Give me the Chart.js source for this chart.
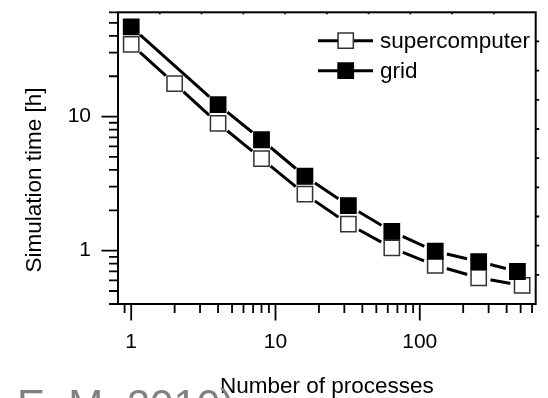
<!DOCTYPE html>
<html>
<head>
<title>Simulation time vs number of processes</title>
<script src="https://cdn.jsdelivr.net/npm/chart.js@4.4.0/dist/chart.umd.min.js"></script>
<style>
  html, body { margin: 0; padding: 0; background: #fff; }
  #chart { display: block; }
</style>
</head>
<body>
<canvas id="chart" width="548" height="398"></canvas>
<script>
// values
const superProcesses = [1, 2, 4, 8, 16, 32, 64, 128, 256, 512];
const superHours = [34.6, 17.6, 8.92, 4.86, 2.64, 1.58, 1.05, 0.778, 0.628, 0.55];
const gridProcesses = [1, 4, 8, 16, 32, 64, 128, 256, 475];
const gridHours = [46.7, 12.27, 6.72, 3.59, 2.17, 1.39, 0.99, 0.829, 0.699];
const seriesNames = ['supercomputer', 'grid'];

// tick values
const xMajorTicks = [1, 10, 100];
const xMinorTicks = [0.9, 2, 3, 4, 5, 6, 7, 8, 9, 20, 30, 40, 50, 60, 70, 80, 90, 200, 300, 400, 500, 600];
const yMajorTicks = [1, 10];
const yMinorTicks = [0.4, 0.5, 0.6, 0.7, 0.8, 0.9, 2, 3, 4, 5, 6, 7, 8, 9, 20, 30, 40, 50, 60];

const FONT = '"Liberation Sans", Arial, Helvetica, sans-serif';
const GAP = 12;      // Origin-style gap between line and symbol
const SYM_R = 10.8;  // rect point radius -> ~16.7px square
const LINE_W = 3;

function toPoints(xs, ys) {
  return xs.map((x, i) => ({ x: x, y: ys[i] }));
}

// line gap around own symbols
const symbolGap = {
  id: 'symbolGap',
  beforeDatasetDraw(chart, args) {
    const ds = chart.data.datasets[args.index];
    if (!ds.symbolGap) return;
    const ctx = chart.ctx;
    ctx.save();
    ctx.beginPath();
    ctx.rect(0, 0, chart.width, chart.height);
    args.meta.data.forEach(p => {
      ctx.moveTo(p.x + GAP, p.y);
      ctx.arc(p.x, p.y, GAP, 0, Math.PI * 2);
    });
    ctx.clip('evenodd');
  },
  afterDatasetDraw(chart, args) {
    if (chart.data.datasets[args.index].symbolGap) chart.ctx.restore();
  }
};

// frame, tick marks, legend, y title, caption fragment
const decorations = {
  id: 'decorations',
  afterDraw(chart) {
    const ctx = chart.ctx;
    const a = chart.chartArea;
    const xs = chart.scales.x, ys = chart.scales.y;
    ctx.save();
    ctx.strokeStyle = '#000';
    ctx.lineCap = 'butt';

    // ticks
    ctx.lineWidth = 1.8;
    ctx.beginPath();
    const xTick = (v, len) => {
      const px = xs.getPixelForValue(v);
      if (px < a.left - 0.5 || px > a.right + 0.5) return;
      ctx.moveTo(px, a.bottom); ctx.lineTo(px, a.bottom + len);
    };
    const yTick = (v, len) => {
      const py = ys.getPixelForValue(v);
      if (py < a.top - 0.5 || py > a.bottom + 0.5) return;
      ctx.moveTo(a.left, py); ctx.lineTo(a.left - len, py);
    };
    xMajorTicks.forEach(v => xTick(v, 16.5));
    xMinorTicks.forEach(v => xTick(v, 9));
    yMajorTicks.forEach(v => yTick(v, 16.5));
    yMinorTicks.forEach(v => yTick(v, 9));
    // mirror axes: plain even ticks
    for (let i = 1; i < 10; i++) {
      const px = a.left + (a.right - a.left) * i / 10;
      ctx.moveTo(px, a.top); ctx.lineTo(px, a.top + 2);
      const py = a.top + (a.bottom - a.top) * i / 10;
      ctx.moveTo(a.right, py); ctx.lineTo(a.right + 3.5, py);
    }
    ctx.stroke();

    // frame
    ctx.lineWidth = 2;
    ctx.strokeRect(a.left, a.top, a.right - a.left, a.bottom - a.top);

    // legend
    const rows = [
      { label: seriesNames[0], y: 40.7, fill: '#fff', stroke: '#333' },
      { label: seriesNames[1], y: 70.7, fill: '#000', stroke: '#000' }
    ];
    rows.forEach(r => {
      ctx.lineWidth = LINE_W;
      ctx.strokeStyle = '#000';
      ctx.beginPath();
      ctx.moveTo(318, r.y); ctx.lineTo(373, r.y);
      ctx.stroke();
      ctx.fillStyle = r.fill;
      ctx.strokeStyle = r.stroke;
      ctx.lineWidth = 1.5;
      Chart.helpers.drawPoint(ctx, { pointStyle: 'rect', radius: SYM_R, borderWidth: 1.5, rotation: 0 }, 345.7, r.y);
      ctx.fillStyle = '#000';
      ctx.font = '22.5px ' + FONT;
      ctx.textAlign = 'left';
      ctx.textBaseline = 'middle';
      ctx.fillText(r.label, 380, r.y + 1);
    });

    // y axis title
    ctx.save();
    ctx.translate(35, 180);
    ctx.rotate(-Math.PI / 2);
    ctx.font = '22.5px ' + FONT;
    ctx.textAlign = 'center';
    ctx.textBaseline = 'middle';
    ctx.fillStyle = '#000';
    ctx.fillText('Simulation time [h]', 0, 0);
    ctx.restore();

    // caption fragment cut by the bottom edge
    ctx.font = '42px ' + FONT;
    ctx.fillStyle = '#808080';
    ctx.textAlign = 'left';
    ctx.textBaseline = 'alphabetic';
    ctx.fillText('E. M. 2010)', 17, 419);
    ctx.restore();
  }
};

const ctx = document.getElementById('chart').getContext('2d');
new Chart(ctx, {
  type: 'line',
  data: {
    datasets: [
      {
        label: seriesNames[0] + ' line',
        data: toPoints(superProcesses, superHours),
        borderColor: '#000', borderWidth: LINE_W, pointRadius: 0,
        symbolGap: true, order: 4
      },
      {
        label: seriesNames[0],
        data: toPoints(superProcesses, superHours),
        showLine: false, pointStyle: 'rect', pointRadius: SYM_R,
        pointBackgroundColor: '#fff', pointBorderColor: '#333', pointBorderWidth: 1.5,
        clip: false, order: 3
      },
      {
        label: seriesNames[1] + ' line',
        data: toPoints(gridProcesses, gridHours),
        borderColor: '#000', borderWidth: LINE_W, pointRadius: 0,
        symbolGap: true, order: 2
      },
      {
        label: seriesNames[1],
        data: toPoints(gridProcesses, gridHours),
        showLine: false, pointStyle: 'rect', pointRadius: SYM_R,
        pointBackgroundColor: '#000', pointBorderColor: '#000', pointBorderWidth: 1.5,
        clip: false, order: 1
      }
    ]
  },
  options: {
    responsive: false,
    animation: false,
    devicePixelRatio: 1,
    layout: { padding: { top: 11, right: 7.7, left: 0, bottom: 0 } },
    plugins: { legend: { display: false }, tooltip: { enabled: false } },
    elements: { line: { tension: 0 }, point: { hoverRadius: SYM_R } },
    scales: {
      x: {
        type: 'logarithmic',
        bounds: 'data',
        min: 0.81, max: 636,
        grid: { display: false, drawTicks: false },
        border: { display: false },
        afterBuildTicks: s => { s.ticks = xMajorTicks.map(v => ({ value: v })); },
        afterFit: s => { s.height = 94; s.paddingLeft = 0; s.paddingRight = 0; },
        ticks: {
          autoSkip: false, maxRotation: 0, padding: 26,
          color: '#000', font: { family: FONT, size: 21 },
          callback: v => String(v)
        },
        title: {
          display: true, text: 'Number of processes', color: '#000',
          font: { family: FONT, size: 22.5, lineHeight: 1 },
          padding: { top: 0, bottom: 0 }
        }
      },
      y: {
        type: 'logarithmic',
        bounds: 'data',
        min: 0.4, max: 60,
        grid: { display: false, drawTicks: false },
        border: { display: false },
        afterBuildTicks: s => { s.ticks = yMajorTicks.map(v => ({ value: v })); },
        afterFit: s => { s.width = 118; s.paddingTop = 0; s.paddingBottom = 0; },
        ticks: {
          autoSkip: false, padding: 27,
          color: '#000', font: { family: FONT, size: 21 },
          callback: v => String(v)
        }
      }
    }
  },
  plugins: [symbolGap, decorations]
});
</script>
</body>
</html>
